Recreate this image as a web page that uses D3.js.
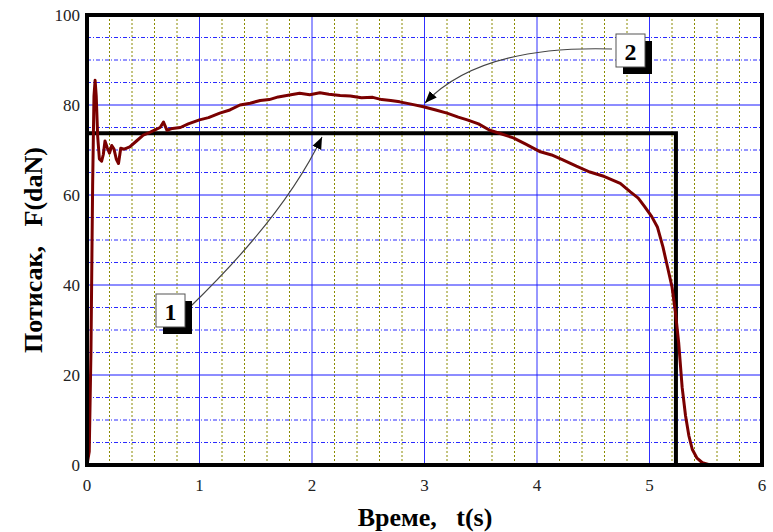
<!DOCTYPE html>
<html>
<head>
<meta charset="utf-8">
<script src="https://cdn.jsdelivr.net/npm/d3@7"></script>
<style>
  body { margin: 0; background: #fff; }
  svg text { font-family: "Liberation Serif", "DejaVu Serif", serif; }
</style>
</head>
<body>
<div id="chart"></div>
<script>
// measured thrust curve (curve 2)
const timeS = [0, 0.02, 0.035, 0.05, 0.062, 0.072, 0.082, 0.095, 0.11, 0.13, 0.145, 0.16, 0.18, 0.2, 0.22, 0.24, 0.26, 0.28, 0.3, 0.33,
  0.38, 0.44, 0.5, 0.55, 0.6, 0.65, 0.68, 0.71, 0.76, 0.83, 0.9, 1.0, 1.08, 1.18, 1.27, 1.36, 1.45, 1.54, 1.62, 1.7, 1.8,
  1.89, 1.98, 2.07, 2.15, 2.25, 2.34, 2.44, 2.54, 2.62, 2.7, 2.78, 2.88, 2.99, 3.1, 3.2, 3.3, 3.38, 3.48, 3.58, 3.68,
  3.79, 3.9, 4.03, 4.13, 4.23, 4.35, 4.47, 4.6, 4.74, 4.83, 4.9, 4.96, 5.02, 5.07, 5.12, 5.16, 5.2, 5.23, 5.26, 5.29,
  5.32, 5.35, 5.38, 5.42, 5.47, 5.54, 5.7, 6.0];
const forceDaN = [0, 3, 25, 62, 82, 85.5, 82, 73, 68, 67.5, 69, 72, 70.5, 69.3, 71, 70.2, 68, 67, 70.4, 70.2,
  70.7, 72, 73.3, 73.8, 74.4, 75, 76.2, 74.4, 74.8, 75, 75.8, 76.7, 77.2, 78.2, 78.9, 80, 80.4, 81, 81.2, 81.8, 82.2,
  82.6, 82.3, 82.7, 82.4, 82.1, 82, 81.6, 81.7, 81.2, 81, 80.7, 80.2, 79.6, 78.9, 78.2, 77.3, 76.7, 75.8, 74.4, 73.6,
  72.7, 71.3, 69.6, 68.9, 67.8, 66.4, 65.1, 64.1, 62.6, 60.7, 59.3, 57.3, 55.2, 52.9, 48.4, 44, 39.6, 34, 27, 17.3,
  11, 6.5, 3.5, 1.6, 0.5, 0, 0, 0];

// idealised thrust (curve 1)
const idealT = [0, 5.235, 5.235];
const idealF = [73.7, 73.7, 0];

const xTicks = [0, 1, 2, 3, 4, 5, 6];
const yTicks = [0, 20, 40, 60, 80, 100];

const width = 773, height = 532;
const plotL = 87, plotR = 762, plotT = 15, plotB = 465;

const svg = d3.select("#chart").append("svg")
    .attr("width", width)
    .attr("height", height);

const x = d3.scaleLinear().domain([0, 6]).range([plotL, plotR]);
const y = d3.scaleLinear().domain([0, 100]).range([plotB, plotT]);

// grid
const minorX = d3.range(0, 6.001, 0.2).filter(v => Math.abs(v - Math.round(v)) > 1e-6);
const minorY = d3.range(0, 100.001, 5).filter(v => v % 20 !== 0);

const grid = svg.append("g");
grid.selectAll(".mx").data(minorX).join("line")
    .attr("x1", d => x(d)).attr("x2", d => x(d))
    .attr("y1", plotT).attr("y2", plotB)
    .attr("stroke", "#8a8a00").attr("stroke-width", 1)
    .attr("stroke-dasharray", "2,2");
grid.selectAll(".my").data(minorY).join("line")
    .attr("x1", plotL).attr("x2", plotR)
    .attr("y1", d => y(d)).attr("y2", d => y(d))
    .attr("stroke", "#2a2aff").attr("stroke-width", 1)
    .attr("stroke-dasharray", "4,2,1,2");
grid.selectAll(".Mx").data(xTicks).join("line")
    .attr("x1", d => x(d)).attr("x2", d => x(d))
    .attr("y1", plotT).attr("y2", plotB)
    .attr("stroke", "#3030ff").attr("stroke-width", 1);
grid.selectAll(".My").data(yTicks).join("line")
    .attr("x1", plotL).attr("x2", plotR)
    .attr("y1", d => y(d)).attr("y2", d => y(d))
    .attr("stroke", "#1a1aff").attr("stroke-width", 1);

// curve 1 (black)
const pts1 = idealT.map((t, i) => [t, idealF[i]]);
svg.append("path")
    .datum(pts1)
    .attr("fill", "none")
    .attr("stroke", "#000")
    .attr("stroke-width", 4)
    .attr("d", d3.line().x(d => x(d[0])).y(d => y(d[1])));

// curve 2 (dark red)
const pts2 = timeS.map((t, i) => [t, forceDaN[i]]);
svg.append("path")
    .datum(pts2)
    .attr("fill", "none")
    .attr("stroke", "#7a0000")
    .attr("stroke-width", 3)
    .attr("stroke-linejoin", "round")
    .attr("d", d3.line().x(d => x(d[0])).y(d => y(d[1])));

// frame
svg.append("rect")
    .attr("x", plotL).attr("y", plotT)
    .attr("width", plotR - plotL).attr("height", plotB - plotT)
    .attr("fill", "none").attr("stroke", "#000").attr("stroke-width", 4);

// tick labels
svg.append("g").selectAll("text").data(xTicks).join("text")
    .attr("x", d => x(d)).attr("y", 491)
    .attr("text-anchor", "middle")
    .attr("font-size", 17).attr("fill", "#222")
    .text(d => d);
svg.append("g").selectAll("text").data(yTicks).join("text")
    .attr("x", 80).attr("y", d => y(d) + 6)
    .attr("text-anchor", "end")
    .attr("font-size", 17).attr("fill", "#222")
    .text(d => d);

// axis titles
svg.append("text")
    .attr("x", 425).attr("y", 526)
    .attr("text-anchor", "middle")
    .attr("font-size", 26).attr("font-weight", "bold")
    .style("white-space", "pre")
    .text("Време,   t(s)");
svg.append("text")
    .attr("transform", "translate(42,250) rotate(-90)")
    .attr("text-anchor", "middle")
    .attr("font-size", 26).attr("font-weight", "bold")
    .style("white-space", "pre")
    .text("Потисак,   F(daN)");

// annotation arrows
const defs = svg.append("defs");
defs.append("marker")
    .attr("id", "arr")
    .attr("viewBox", "0 0 10 10")
    .attr("refX", 10).attr("refY", 5)
    .attr("markerWidth", 12).attr("markerHeight", 12)
    .attr("markerUnits", "userSpaceOnUse")
    .attr("orient", "auto")
  .append("path")
    .attr("d", "M0,1 L10,5 L0,9 Z")
    .attr("fill", "#000");

svg.append("path")
    .attr("d", "M190,307 Q285,215 322,137")
    .attr("fill", "none").attr("stroke", "#444").attr("stroke-width", 1.2)
    .attr("marker-end", "url(#arr)");
svg.append("path")
    .attr("d", "M612,49 Q480,45 425,103")
    .attr("fill", "none").attr("stroke", "#444").attr("stroke-width", 1.2)
    .attr("marker-end", "url(#arr)");

// labelled boxes
const boxes = [
  { label: "1", x: 156, y: 294 },
  { label: "2", x: 616, y: 34 }
];
const bw = 29, bh = 33;
const bg = svg.append("g").selectAll("g").data(boxes).join("g");
bg.append("rect")
    .attr("x", d => d.x + 7).attr("y", d => d.y + 7)
    .attr("width", bw).attr("height", bh)
    .attr("fill", "#000");
bg.append("rect")
    .attr("x", d => d.x).attr("y", d => d.y)
    .attr("width", bw).attr("height", bh)
    .attr("fill", "#fff").attr("stroke", "#555").attr("stroke-width", 1);
bg.append("text")
    .attr("x", d => d.x + bw / 2).attr("y", d => d.y + 26)
    .attr("text-anchor", "middle")
    .attr("font-size", 24).attr("font-weight", "bold")
    .text(d => d.label);
</script>
</body>
</html>
